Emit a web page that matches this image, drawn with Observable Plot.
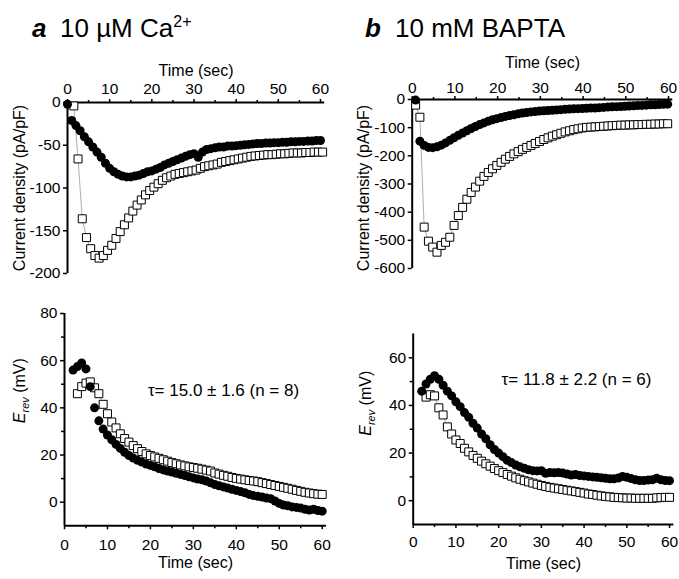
<!DOCTYPE html>
<html><head><meta charset="utf-8">
<script src="https://cdn.jsdelivr.net/npm/d3@7"></script>
<script src="https://cdn.jsdelivr.net/npm/@observablehq/plot@0.6"></script>
<style>
body{margin:0;background:#fff;font-family:"Liberation Sans",Arial,sans-serif;}
#wrap{position:relative;width:679px;height:579px;overflow:hidden;background:#fff;}
.panel{position:absolute;}
.title{position:absolute;font-size:26px;line-height:26px;color:#000;white-space:nowrap;}
.title b{font-style:italic;font-weight:bold;display:inline-block;}
.title sup{font-size:16px;vertical-align:10px;line-height:0;}
</style></head><body>
<div id="wrap">
  <div class="title" style="left:32px;top:15px"><b style="width:28px">a</b>10 µM Ca<sup>2+</sup></div>
  <div class="title" style="left:365px;top:15px"><b style="width:30px">b</b>10 mM BAPTA</div>
  <div class="panel" id="pa1" style="left:0;top:40px"></div>
  <div class="panel" id="pb1" style="left:340px;top:40px"></div>
  <div class="panel" id="pa2" style="left:0;top:290px"></div>
  <div class="panel" id="pb2" style="left:340px;top:290px"></div>
</div>
<script>
// ---- tick labels ----
const xMajor = [0, 10, 20, 30, 40, 50, 60];
const xMinor = [5, 15, 25, 35, 45, 55];
const yMajorCaCurrent = [0, -50, -100, -150, -200];
const yMajorBaptaCurrent = [0, -100, -200, -300, -400, -500, -600];
const yMajorCaErev = [0, 20, 40, 60, 80];
const yMinorCaErev = [10, 30, 50, 70];
const yMajorBaptaErev = [0, 20, 40, 60];
const yMinorBaptaErev = [10, 30, 50];

// ---- panel a (10 µM Ca2+), current density, pA/pF ----
const timeCaCurrentCircle = d3.range(0, 61);          // sampling times (s)
const caCurrentCircle = [-2, -21, -27, -33, -40, -46, -52, -58, -64, -71, -77, -81, -84, -86, -87, -87,
  -86, -85, -83, -81, -80, -78, -76, -73, -71, -69, -67, -65, -63, -61, -60, -64, -58, -55, -54, -53,
  -52, -52, -51, -51, -50.5, -50, -49.5, -49, -48.5, -48, -48, -47.5, -47.5, -47, -47, -46.5, -46.5,
  -46, -46, -45.5, -45.5, -45, -45, -44.5, -44.5];
const timeCaCurrentSquare = d3.range(1.5, 61, 1);
const caCurrentSquare = [-4, -66, -136, -158, -171, -179, -182, -179, -173, -167, -159, -151, -143, -135,
  -127, -120, -114, -108, -103, -99, -95, -91, -88, -86, -84, -83, -82, -81, -80, -79, -77, -75, -74, -73,
  -72, -70, -69, -68, -67, -66, -65, -64, -63, -62.5, -62, -61.5, -61, -61, -60.5, -60, -60, -59.5, -59,
  -59, -59, -58.5, -58.5, -58, -58, -58];

// ---- panel b (10 mM BAPTA), current density, pA/pF ----
const timeBaptaCurrent = d3.range(0.8, 60.5, 1);
const baptaCurrentCircle = [-2, -148, -163, -170, -171, -168, -162, -154, -145, -136, -127, -119, -111,
  -103, -96, -89, -83, -77, -72, -68, -64, -60, -57, -54, -51, -48, -46, -44, -43, -41, -40, -39, -38,
  -37, -36, -35, -34, -33, -32.5, -32, -31, -30.5, -30, -29, -28, -27, -26, -25.5, -25, -24, -23, -22,
  -21.5, -21, -20, -19, -18.5, -18, -17, -16.5];
const baptaCurrentSquare = [-20, -63, -453, -503, -524, -542, -518, -507, -489, -447, -412, -383, -354,
  -330, -311, -290, -273, -259, -246, -234, -223, -212, -202, -193, -185, -177, -170, -163, -156, -149,
  -142, -136, -130, -125, -120, -115, -111, -107, -104, -101, -99, -98, -97, -96, -95, -94, -93, -92,
  -91, -91, -90, -90, -89, -89, -88, -88, -87, -87, -86, -86];

// ---- panel a, Erev (mV) ----
const timeCaErevCircle = d3.range(2, 61);
const caErevCircle = [56, 57.5, 59, 56.5, 49, 40, 34.5, 31, 28.5, 26.5, 24.5, 22.8, 21.2, 19.8, 18.7,
  17.8, 17, 16.2, 15.6, 15, 14.3, 13.7, 13.2, 12.8, 12.3, 11.8, 11.3, 10.8, 10.3, 9.8, 9.5, 9, 8.2, 7.5,
  7, 6.5, 6, 5.5, 5, 4.5, 4, 3.3, 2.8, 2.5, 2.2, 1.8, 1.5, 0.5, -0.5, -1.2, -1.5, -2, -2.2, -2.5, -3,
  -3.3, -3, -3.5, -3.8];
const timeCaErevSquare = d3.range(3, 61);
const caErevSquare = [46, 49, 50.5, 51, 48.5, 46, 41.5, 37.5, 34, 31.5, 29, 27, 25.5, 24, 22.7, 21.5,
  20.5, 19.8, 19.2, 18.6, 18, 17.4, 16.8, 16.3, 15.8, 15.4, 15, 14.7, 14.4, 14, 13.6, 13.2, 12.4, 11.9,
  11.4, 11, 10.5, 10.1, 9.8, 9.5, 9.2, 9, 8.7, 8.3, 7.9, 7.5, 7.1, 6.7, 6.3, 5.9, 5.5, 5, 4.6, 4.2, 3.9,
  3.6, 3.4, 3.3];

// ---- panel b, Erev (mV) ----
const timeBaptaErevCircle = d3.range(2, 61);
const baptaErevCircle = [46, 49, 51, 52.5, 51, 48.5, 46, 44, 41.5, 39.5, 37, 35, 32.5, 30.5, 28, 26,
  23.5, 21.5, 20, 18.5, 17, 16, 15, 14.2, 13.6, 13, 12.6, 12.5, 12.6, 11.5, 11.8, 11.7, 11.8, 11.6, 11.2,
  10.8, 11, 10.6, 10.4, 10.2, 10, 9.8, 9.6, 9.4, 9.2, 9.2, 9.5, 10.2, 9.8, 9.3, 8.8, 8.5, 8.5, 8.7, 8.8,
  9.4, 8.8, 8.5, 8.4];
const timeBaptaErevSquare = d3.range(3, 61);
const baptaErevSquare = [43.5, 44.5, 44, 39, 36, 31, 28, 25.5, 24, 22, 20.5, 19, 17.8, 16.6, 15.5, 14.5,
  13.5, 12.6, 11.8, 11, 10.3, 9.6, 9, 8.4, 7.9, 7.4, 6.9, 6.4, 6, 5.6, 5.3, 5, 4.7, 4.4, 4.1, 3.8, 3.5,
  3.2, 2.8, 2.6, 2.3, 2, 1.8, 1.6, 1.4, 1.3, 1.2, 1.1, 1.1, 1, 1, 1, 1, 1, 1.2, 1.3, 1.4, 1.4];

const tauCa = "τ= 15.0 ± 1.6 (n = 8)";
const tauBapta = "τ= 11.8 ± 2.2 (n = 6)";
const xTitle = "Time (sec)";
const yTitleCurrent = "Current density (pA/pF)";
const yTitleErev = "Erev (mV)";

const FONT = "'Liberation Sans', Arial, Helvetica, sans-serif";
const TICK_FS = 15.5, TITLE_FS = 16, TAU_FS = 17;

function makePanel(c) {
  const circ = c.circle.map((v, i) => ({t: c.tCircle[i], v}));
  const sq = c.square.map((v, i) => ({t: c.tSquare[i], v}));
  const top = c.xAnchor === "top";
  const marks = [
    Plot.axisX({anchor: c.xAnchor, ticks: xMajor, tickSize: 4, tickPadding: c.xPad,
      tickFormat: d => String(d), label: null, fontSize: TICK_FS, strokeWidth: 1.5}),
    Plot.axisX({anchor: c.xAnchor, ticks: xMinor, tickSize: 3, tickFormat: () => "",
      label: null, strokeWidth: 1.5}),
    Plot.axisY({anchor: "left", ticks: c.yMajor, tickSize: 4, tickPadding: 3,
      tickFormat: d => String(d), label: null, fontSize: TICK_FS, strokeWidth: 1.5}),
    c.yMinor ? Plot.axisY({anchor: "left", ticks: c.yMinor, tickSize: 3, tickFormat: () => "",
      label: null, strokeWidth: 1.5}) : null,
    Plot.ruleY([c.yDomain[top ? 1 : 0]], {strokeWidth: 2}),
    Plot.ruleX([0], {strokeWidth: 2}),
    Plot.line(sq, {x: "t", y: "v", stroke: "#999", strokeWidth: 0.8}),
    Plot.dot(sq, {x: "t", y: "v", symbol: "square", r: 4.5, fill: "white", stroke: "black", strokeWidth: 1}),
    Plot.dot(circ, {x: "t", y: "v", r: 4.5, fill: "black"}),
    Plot.text([xTitle], {text: d => d, frameAnchor: top ? "top" : "bottom", dy: c.xTitleDy,
      textAnchor: "middle", lineAnchor: "middle", fontSize: TITLE_FS}),
    Plot.text([c.yTitle], {text: d => d, frameAnchor: "left", rotate: -90, dx: c.yTitleDx, dy: c.yTitleDy,
      textAnchor: "middle", lineAnchor: "middle", fontSize: TITLE_FS}),
    c.tau ? Plot.text([c.tau], {text: d => d, frameAnchor: "top", dx: c.tauDx, dy: c.tauDy,
      textAnchor: "middle", lineAnchor: "middle", fontSize: TAU_FS}) : null
  ].filter(Boolean);
  const svg = Plot.plot({
    width: c.width, height: c.height,
    marginLeft: c.ml, marginRight: c.mr, marginTop: c.mt, marginBottom: c.mb,
    x: {domain: [0, 61]},
    y: {domain: c.yDomain},
    style: {fontFamily: FONT, fontSize: "15px", background: "transparent", color: "#000", overflow: "visible"},
    marks
  });
  // italic E with subscript "rev"
  d3.select(svg).selectAll("text").filter(function () { return this.textContent === yTitleErev; })
    .each(function () {
      const t = d3.select(this);
      t.text(null);
      t.append("tspan").attr("font-style", "italic").text("E");
      t.append("tspan").attr("font-style", "italic").attr("font-size", 11).attr("dy", 4).text("rev");
      t.append("tspan").attr("dy", -4).text(" (mV)");
    });
  document.getElementById(c.id).appendChild(svg);
}

makePanel({id: "pa1", width: 340, height: 250, ml: 67, mr: 15.8, mt: 62, mb: 17,
  yDomain: [-200, 0], yMajor: yMajorCaCurrent, xAnchor: "top", xPad: 5,
  tCircle: timeCaCurrentCircle, circle: caCurrentCircle, tSquare: timeCaCurrentSquare, square: caCurrentSquare,
  xTitleDy: -32, yTitle: yTitleCurrent, yTitleDx: -48, yTitleDy: 0});

makePanel({id: "pb1", width: 339, height: 250, ml: 71.7, mr: 6.7, mt: 59, mb: 22,
  yDomain: [-600, 0], yMajor: yMajorBaptaCurrent, xAnchor: "top", xPad: 3,
  tCircle: timeBaptaCurrent, circle: baptaCurrentCircle, tSquare: timeBaptaCurrent, square: baptaCurrentSquare,
  xTitleDy: -37, yTitle: yTitleCurrent, yTitleDx: -48, yTitleDy: 4});

makePanel({id: "pa2", width: 340, height: 289, ml: 64, mr: 14, mt: 23, mb: 53.7,
  yDomain: [-10, 80], yMajor: yMajorCaErev, yMinor: yMinorCaErev, xAnchor: "bottom", xPad: 9,
  tCircle: timeCaErevCircle, circle: caErevCircle, tSquare: timeCaErevSquare, square: caErevSquare,
  xTitleDy: 37, yTitle: yTitleErev, yTitleDx: -45, yTitleDy: -29, tau: tauCa, tauDx: 28, tauDy: 77});

makePanel({id: "pb2", width: 339, height: 289, ml: 72.7, mr: 5.7, mt: 43.5, mb: 55,
  yDomain: [-10, 70], yMajor: yMajorBaptaErev, yMinor: yMinorBaptaErev, xAnchor: "bottom", xPad: 7,
  tCircle: timeBaptaErevCircle, circle: baptaErevCircle, tSquare: timeBaptaErevSquare, square: baptaErevSquare,
  xTitleDy: 39, yTitle: yTitleErev, yTitleDx: -47, yTitleDy: -26, tau: tauBapta, tauDx: 33, tauDy: 46});
</script>
</body></html>
